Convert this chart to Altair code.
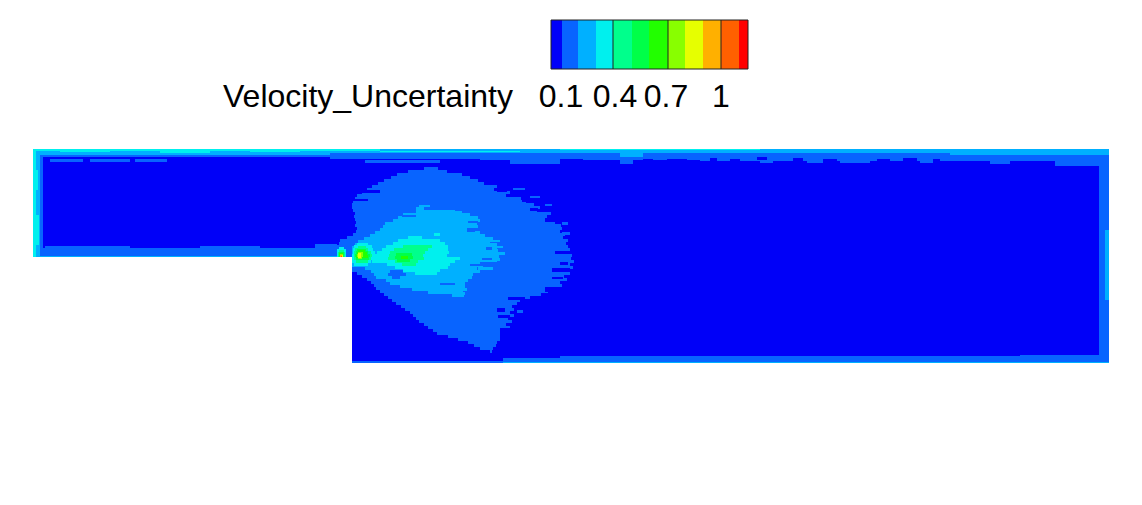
import altair as alt
import pandas as pd

TITLE = "Velocity_Uncertainty"
THRESHOLDS = [0.1, 0.2, 0.3, 0.4, 0.5, 0.6, 0.7, 0.8, 0.9, 1.0, 1.1]
COLORS = ["#0000f8", "#0864ff", "#00b0ff", "#00f0ee", "#00ff8c", "#00ff48", "#22ff00",
          "#88ff00", "#e6ff00", "#ffb000", "#ff6000", "#ff0000"]

# legend
LEGEND_EDGES = [551, 562, 578, 596, 613, 632, 649, 668, 685, 703, 721, 739, 748]
LEGEND_VALUES = [0.07, 0.15, 0.25, 0.35, 0.45, 0.55, 0.65, 0.75, 0.85, 0.95, 1.05, 1.12]
TICK_LABELS = ["0.1", "0.4", "0.7", "1"]
TICK_LABEL_X = [561, 615, 666, 721]
TICK_RULE_X = [613, 668, 721]

# field regions: (top, bottom, left, right), in paint order by level
BASE = [(149, 257, 33, 1109), (257, 363, 352, 1109)]
BAND_1 = [
    (149, 157, 33, 330), (149, 159, 330, 480), (149, 160, 480, 700), (149, 161, 700, 950),
    (149, 161, 950, 1109), (159, 162, 50, 83), (159, 162, 90, 130), (159, 162, 135, 167),
    (160, 163, 365, 440), (160, 164, 510, 560), (160, 164, 620, 633), (160, 163, 760, 773),
    (160, 163, 807, 823), (160, 163, 840, 870), (160, 163, 920, 933), (160, 164, 990, 1010),
    (160, 166, 1055, 1109), (149, 257, 33, 43), (248, 257, 33, 340), (246, 248, 45, 130),
    (246, 248, 200, 260), (244, 248, 315, 337), (160, 363, 1099, 1109), (355, 363, 1020, 1109),
    (356, 363, 560, 1020), (358, 363, 503, 560), (361, 363, 352, 503),
]
BAND_2 = [
    (149, 153, 33, 1109), (153, 157, 620, 643), (153, 155, 33, 330), (149, 257, 33, 40),
    (256, 257, 33, 340), (362, 363, 503, 1109), (230, 300, 1105, 1109), (153, 155, 950, 1109),
]
BAND_3 = [
    (149, 151, 33, 380), (150, 152, 60, 110), (151, 153, 160, 210), (150, 152, 250, 300),
    (151, 152, 380, 520), (149, 150, 560, 760), (149, 257, 33, 36), (170, 190, 36, 38),
    (215, 245, 36, 39),
]

# plume rows: (top, left, right)
PLUME_1 = [
    (167, 424, 438), (170, 408, 447), (173, 397, 462), (176, 391, 470), (179, 384, 478),
    (182, 378, 484), (185, 372, 497), (188, 367, 494), (191, 362, 510), (194, 357, 506),
    (197, 355, 521), (200, 353, 526), (203, 352, 534), (206, 352, 540), (209, 353, 537),
    (212, 355, 551), (215, 354, 547), (218, 355, 558), (221, 356, 555), (224, 355, 561),
    (227, 357, 562), (230, 356, 560), (233, 353, 565), (236, 347, 563), (239, 340, 568),
    (242, 339, 566), (245, 337, 568), (248, 337, 570), (251, 337, 566), (254, 337, 572),
    (257, 352, 571), (260, 352, 574), (263, 352, 570), (266, 352, 573), (269, 352, 566),
    (272, 357, 570), (275, 362, 564), (278, 367, 567), (281, 371, 560), (284, 374, 562),
    (287, 376, 553), (290, 380, 548), (293, 384, 541), (296, 388, 530), (299, 392, 520),
    (302, 396, 517), (305, 401, 512), (308, 405, 514), (311, 410, 510), (314, 413, 514),
    (317, 416, 508), (320, 419, 512), (323, 424, 506), (326, 428, 510), (329, 433, 503),
    (332, 437, 505), (335, 448, 500), (338, 458, 500), (341, 468, 497), (344, 474, 496),
    (347, 480, 493), (350, 490, 492),
]
# low-level streaks cut into the plume edge: (top, bottom, left, right)
CUTS_0 = [
    (188, 192, 497, 507), (193, 196, 513, 523), (199, 202, 522, 530), (208, 211, 530, 538),
    (218, 222, 545, 562), (251, 254, 555, 570), (262, 265, 560, 568), (268, 272, 552, 570),
    (277, 279, 552, 563), (287, 292, 545, 560), (297, 300, 508, 525), (308, 312, 497, 505),
    (315, 318, 498, 510), (328, 335, 500, 510), (199, 201, 353, 368), (190, 193, 362, 380),
    (159, 161, 560, 583), (159, 161, 643, 653), (159, 161, 667, 687), (158, 161, 710, 717),
    (159, 161, 730, 740), (157, 160, 757, 767), (158, 161, 793, 803), (159, 161, 823, 837),
    (159, 161, 877, 890), (158, 161, 903, 917), (159, 161, 933, 940),
]
STREAKS_1 = [(188, 190, 513, 525), (222, 225, 562, 568), (232, 235, 562, 570),
             (310, 313, 517, 523), (196, 198, 530, 540), (204, 206, 545, 552)]

PLUME_2 = [
    (207, 416, 424), (210, 416, 455), (213, 403, 470), (216, 398, 478), (219, 393, 480),
    (222, 385, 477), (225, 383, 478), (228, 380, 473), (231, 375, 480), (234, 370, 485),
    (237, 364, 493), (240, 358, 490), (243, 355, 497), (246, 352, 497), (249, 352, 498),
    (252, 352, 500), (255, 352, 499), (258, 352, 500), (261, 352, 497), (264, 352, 483),
    (267, 365, 477), (270, 371, 480), (273, 374, 473), (276, 376, 472), (279, 386, 468),
    (282, 390, 465), (285, 400, 465), (288, 412, 467), (291, 428, 463), (294, 452, 464),
]
CUTS_1 = [
    (228, 232, 467, 475), (221, 223, 468, 478), (258, 260, 482, 492), (264, 266, 470, 483),
    (270, 273, 390, 403), (273, 276, 388, 406), (276, 279, 392, 400), (215, 217, 402, 416),
    (262, 264, 480, 497), (283, 285, 440, 455), (247, 250, 486, 492),
]
STREAKS_2 = [(267, 270, 478, 493), (252, 255, 495, 505), (240, 242, 490, 500),
             (246, 248, 497, 503), (205, 207, 419, 430), (211, 213, 455, 462),
             (219, 221, 393, 398), (292, 295, 455, 465)]

PLUME_3 = [
    (233, 434, 440), (236, 408, 422), (239, 398, 440), (242, 393, 445), (245, 386, 448),
    (248, 382, 448), (251, 377, 449), (254, 375, 447), (257, 370, 460), (260, 372, 455),
    (263, 387, 450), (266, 395, 448), (269, 403, 440), (272, 415, 437),
    (243, 357, 368), (245, 354, 372), (248, 353, 373), (251, 353, 375), (254, 352, 375),
    (257, 352, 372), (260, 352, 371), (263, 354, 368), (247, 339, 344), (249, 337, 346),
    (252, 337, 346), (255, 337, 346),
]
PLUME_4 = [
    (245, 403, 432), (248, 394, 428), (251, 390, 425), (254, 389, 423), (257, 388, 424),
    (260, 395, 418), (263, 402, 416),
    (246, 358, 366), (248, 355, 368), (251, 354, 371), (254, 354, 372), (257, 354, 371),
    (260, 356, 368), (250, 339, 344), (252, 338, 345), (255, 338, 345),
]
PLUME_5 = [(253, 396, 412), (256, 395, 413), (259, 397, 410), (249, 357, 366), (251, 356, 368),
           (254, 355, 370), (257, 356, 369), (252, 339, 344), (254, 339, 344)]
PLUME_6 = [(250, 358, 365), (252, 357, 367), (255, 356, 368), (256, 401, 408), (253, 339, 343)]
PLUME_7 = [(252, 358, 363), (254, 357, 363), (256, 358, 362), (254, 340, 343)]
PLUME_8 = [(253, 358, 361), (255, 358, 361), (255, 340, 343)]
PLUME_9 = [(255, 340, 342)]
PLUME_11 = [(256, 341, 342)]

cells = []
def add_regions(value, regions):
    for top, bottom, left, right in regions:
        cells.append(dict(y=top, y2=bottom, x=left, x2=right, v=value))
def add_rows(value, rows):
    for top, left, right in rows:
        bottom = min(top + 3, 257) if left < 352 else top + 3
        cells.append(dict(y=top, y2=bottom, x=left, x2=right, v=value))

add_regions(0.07, BASE)
add_regions(0.15, BAND_1)
add_regions(0.25, BAND_2)
add_regions(0.35, BAND_3)
add_rows(0.15, PLUME_1)
add_regions(0.07, CUTS_0)
add_regions(0.15, STREAKS_1)
add_rows(0.25, PLUME_2)
add_regions(0.15, CUTS_1)
add_regions(0.25, STREAKS_2)
add_rows(0.35, PLUME_3)
add_rows(0.45, PLUME_4)
add_rows(0.55, PLUME_5)
add_rows(0.65, PLUME_6)
add_rows(0.75, PLUME_7)
add_rows(0.85, PLUME_8)
add_rows(0.95, PLUME_9)
add_rows(1.05, PLUME_11)
field = pd.DataFrame(cells)

legend = pd.DataFrame(dict(x=LEGEND_EDGES[:-1], x2=LEGEND_EDGES[1:], v=LEGEND_VALUES))
legend["y"], legend["y2"] = 20, 69
frame = pd.DataFrame(dict(x=[LEGEND_EDGES[0]], x2=[LEGEND_EDGES[-1]], y=[20], y2=[69]))
ticks = pd.DataFrame(dict(x=TICK_RULE_X, y=[20] * 3, y2=[69] * 3))
labels = pd.DataFrame(dict(x=TICK_LABEL_X, y=[97] * 4, t=TICK_LABELS))
title = pd.DataFrame(dict(x=[223], y=[97], t=[TITLE]))

X = alt.X("x:Q", axis=None, scale=alt.Scale(domain=[8, 1134], nice=False, zero=False))
Y = alt.Y("y:Q", axis=None, scale=alt.Scale(domain=[8, 493], nice=False, zero=False, reverse=True))
C = alt.Color("v:Q", legend=None, scale=alt.Scale(type="threshold", domain=THRESHOLDS, range=COLORS))

field_layer = alt.Chart(field).mark_rect(strokeWidth=0).encode(X, alt.X2("x2:Q"), Y, alt.Y2("y2:Q"), C)
legend_layer = alt.Chart(legend).mark_rect(strokeWidth=0).encode(X, alt.X2("x2:Q"), Y, alt.Y2("y2:Q"), C)
frame_layer = alt.Chart(frame).mark_rect(fillOpacity=0, stroke="#222222", strokeWidth=1).encode(
    X, alt.X2("x2:Q"), Y, alt.Y2("y2:Q"))
tick_layer = alt.Chart(ticks).mark_rule(color="#222222", strokeWidth=1).encode(X, Y, alt.Y2("y2:Q"))
label_layer = alt.Chart(labels).mark_text(
    font="Liberation Sans", fontSize=32, align="center", baseline="middle", color="#000000"
).encode(X, Y, text="t:N")
title_layer = alt.Chart(title).mark_text(
    font="Liberation Sans", fontSize=32, align="left", baseline="middle", color="#000000"
).encode(X, Y, text="t:N")

chart = (
    alt.layer(field_layer, legend_layer, frame_layer, tick_layer, label_layer, title_layer)
    .properties(width=1126, height=485, padding=0, autosize=alt.AutoSizeParams(type="none"))
    .configure_view(strokeWidth=0)
)
chart.save("out.html", embed_options={"renderer": "svg", "actions": False})
